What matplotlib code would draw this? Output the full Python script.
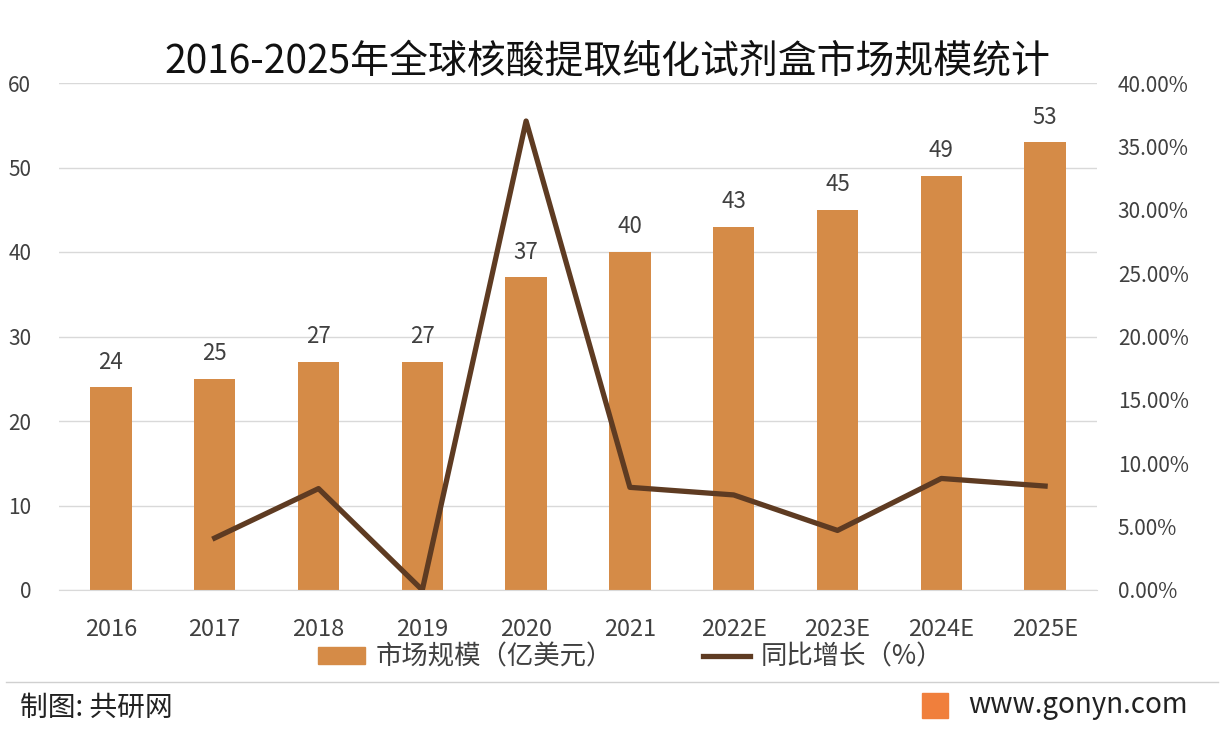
import matplotlib.pyplot as plt
from matplotlib.patches import Rectangle
from matplotlib.lines import Line2D
from matplotlib.ticker import FuncFormatter

plt.rcParams['font.family'] = ['Noto Sans CJK SC', 'DejaVu Sans']

years = ["2016", "2017", "2018", "2019", "2020", "2021", "2022E", "2023E", "2024E", "2025E"]
market_size = [24, 25, 27, 27, 37, 40, 43, 45, 49, 53]
growth_years = ["2017", "2018", "2019", "2020", "2021", "2022E", "2023E", "2024E", "2025E"]
growth_pct = [4.1, 8.0, 0.0, 37.0, 8.1, 7.5, 4.7, 8.8, 8.2]

bar_color = "#D58B47"
line_color = "#5E3B22"
text_color = "#404040"

fig = plt.figure(figsize=(12.24, 7.38), dpi=100)
ax = fig.add_axes([59 / 1224, 1 - 590 / 738, (1097 - 59) / 1224, (590 - 83) / 738])
ax2 = ax.twinx()

x = list(range(len(years)))
ax.bar(x, market_size, width=0.4, color=bar_color, zorder=2)
for xi, v in zip(x, market_size):
    ax.text(xi, v + 1.6, str(v), ha="center", va="bottom", fontsize=16, color=text_color)

gx = [years.index(y) for y in growth_years]
ax2.plot(gx, growth_pct, color=line_color, linewidth=3.8, zorder=3)

ax.set_xlim(-0.5, len(years) - 0.5)
ax.set_ylim(0, 60)
ax.set_yticks(range(0, 61, 10))
ax2.set_ylim(0, 40)
ax2.set_yticks(range(0, 41, 5))
ax2.yaxis.set_major_formatter(FuncFormatter(lambda v, p: f"{v:.2f}%"))

ax.set_xticks(x)
ax.set_xticklabels(years)
ax.grid(axis="y", color="#d9d9d9", linewidth=1, zorder=0)
ax.set_axisbelow(True)

for a in (ax, ax2):
    for s in a.spines.values():
        s.set_visible(False)
    a.tick_params(length=0, labelsize=15, colors=text_color)
ax.spines["bottom"].set_visible(True)
ax.spines["bottom"].set_color("#d9d9d9")
ax.tick_params(axis="x", labelsize=17, pad=20)
ax.tick_params(axis="y", pad=20)
ax2.tick_params(axis="y", pad=15)

fig.text(0.496, 1 - 62 / 738, "2016-2025年全球核酸提取纯化试剂盒市场规模统计",
         ha="center", va="center", fontsize=28, color="#111111")

handles = [Rectangle((0, 0), 1, 1, color=bar_color),
           Line2D([0], [0], color=line_color, linewidth=3.8)]
fig.legend(handles, ["市场规模（亿美元）", "同比增长（%）"], loc="center",
           bbox_to_anchor=(0.515, 1 - 657 / 738), ncol=2, frameon=False,
           fontsize=19, handlelength=1.8, handleheight=0.6, handletextpad=0.4,
           columnspacing=3.4, labelcolor=text_color)

fig.add_artist(Line2D([0.005, 0.995], [1 - 682 / 738] * 2, color="#d0d0d0", linewidth=1))
fig.text(20 / 1224, 1 - 708 / 738, "制图: 共研网", ha="left", va="center",
         fontsize=20, color="#222222")
fig.add_artist(Rectangle((922 / 1224, 1 - 718 / 738), 26 / 1224, 25 / 738,
                         color="#F07F3C", transform=fig.transFigure))
fig.text(1188 / 1224, 1 - 705 / 738, "www.gonyn.com", ha="right", va="center",
         fontsize=20, color="#222222")

fig.savefig("out.png", dpi=100)
